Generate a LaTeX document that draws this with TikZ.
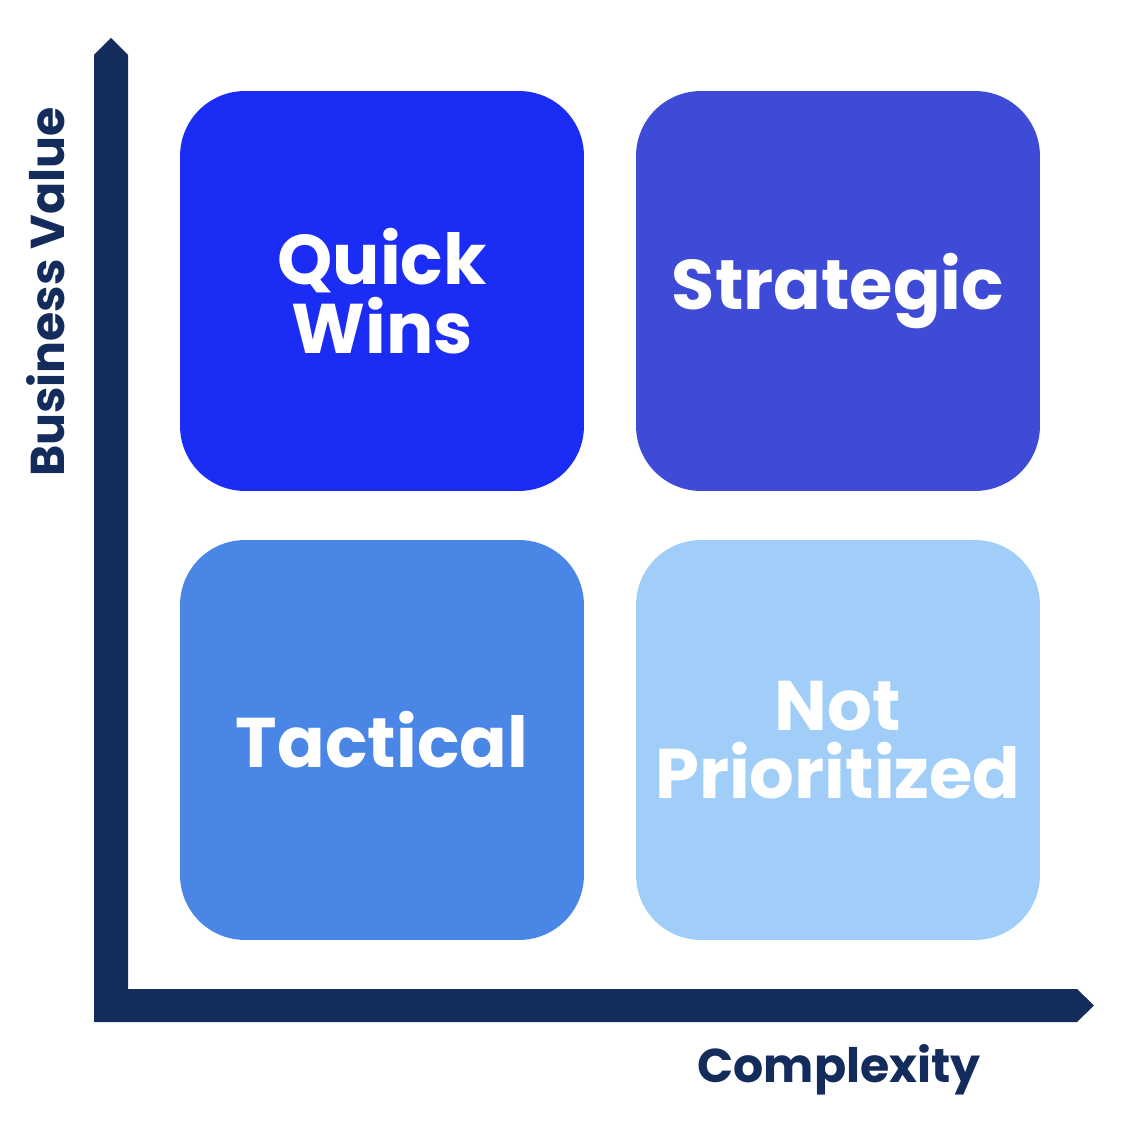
\documentclass[tikz,border=0pt]{standalone}
\usepackage{fontspec}
\setmainfont{Poppins}
\definecolor{navy}{RGB}{20, 44, 92}
\definecolor{qblue}{RGB}{27, 44, 245}
\definecolor{sblue}{RGB}{61, 75, 214}
\definecolor{tblue}{RGB}{74, 134, 230}
\definecolor{nblue}{RGB}{160, 206, 248}
\begin{document}
\begin{tikzpicture}[x=0.02cm,y=-0.02cm]
                \useasboundingbox (0,0) rectangle (1134,1128);

                \tikzset{quad/.style={rectangle, rounded corners=1.3cm, minimum width=8.08cm, minimum height=8cm, text=white, align=center, font=\bfseries\fontsize{40}{39}\selectfont},
                         axlabel/.style={text=navy, font=\bfseries\fontsize{27}{30}\selectfont}}

                % axes
                \fill [navy] (94,1022) -- (94,55) -- (111,38) -- (128,55) -- (128,989) -- (1077,989) -- (1094,1005.5) -- (1077,1022) -- cycle;

                \node[quad, fill=qblue] (QW) at (382,291) {Quick\\Wins};
                \node[quad, fill=sblue] (ST) at (838,291) {Strategic};
                \node[quad, fill=tblue] (TA) at (382,740) {Tactical};
                \node[quad, fill=nblue] (NP) at (838,740) {Not\\Prioritized};

                \node[axlabel] (XL) at (839,1070) {Complexity};
                \node[axlabel, rotate=90] (YL) at (46,292) {Business Value};
            \end{tikzpicture}
\end{document}
